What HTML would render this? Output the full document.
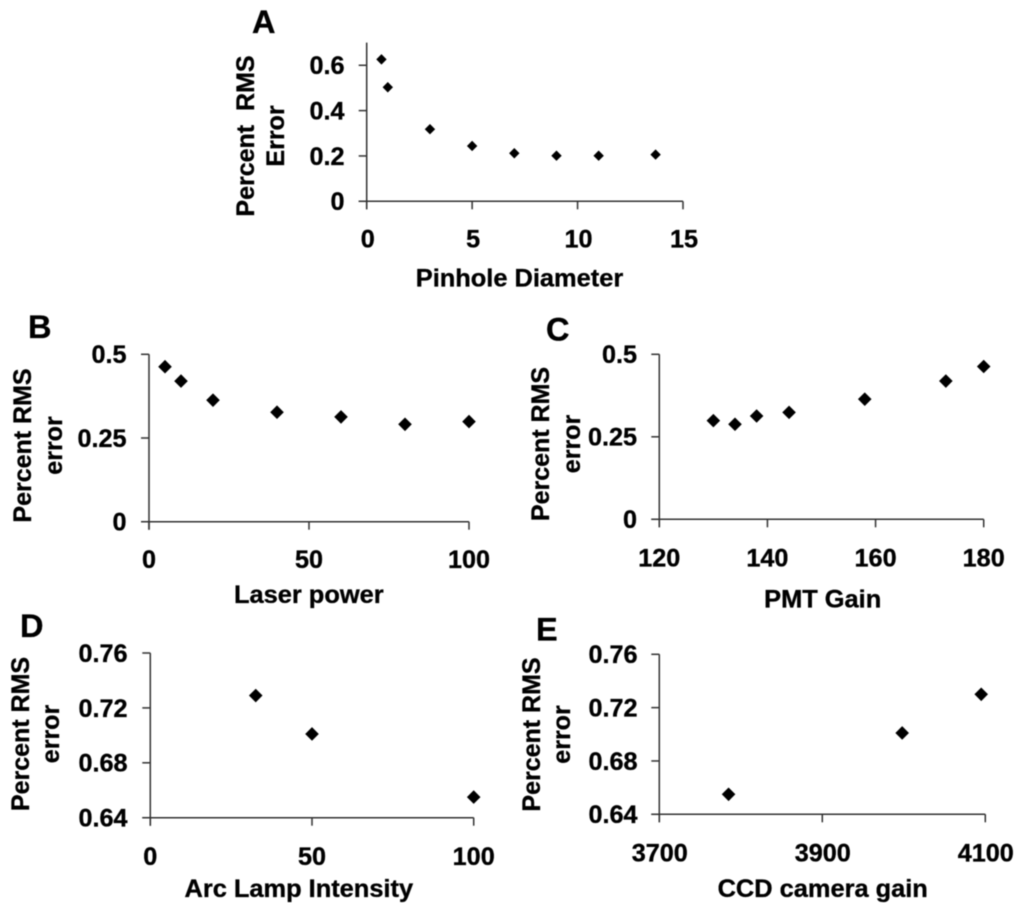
<!DOCTYPE html>
<html lang="en">
<head>
<meta charset="utf-8">
<title>Percent RMS error panels</title>
<style>
html,body{margin:0;padding:0;background:#fff;}
svg{display:block;}
text{font-family:"Liberation Sans",Arial,sans-serif;font-weight:bold;fill:#000;stroke:#000;stroke-width:0.35px;white-space:pre;}
</style>
</head>
<body>
<svg id="figure" xmlns="http://www.w3.org/2000/svg" width="1024" height="913" viewBox="0 0 1024 913">
<defs><filter id="soft" x="0" y="0" width="100%" height="100%"><feGaussianBlur stdDeviation="0.4"/></filter></defs>
<rect width="1024" height="913" fill="#fff"/>
<g id="root" filter="url(#soft)"></g>
</svg>
<script>
// Panel A
const pinholeDiameter = [0.7, 1, 3, 5, 7, 9, 11, 13.7];
const pinholeError = [0.626, 0.503, 0.318, 0.244, 0.212, 0.201, 0.201, 0.206];
const pinholeXTicks = [0, 5, 10, 15];
const pinholeYTicks = [0, 0.2, 0.4, 0.6];
// Panel B
const laserPower = [5, 10, 20, 40, 60, 80, 100];
const laserError = [0.463, 0.420, 0.363, 0.327, 0.313, 0.291, 0.299];
const laserXTicks = [0, 50, 100];
const laserYTicks = [0, 0.25, 0.5];
// Panel C
const pmtGain = [130, 134, 138, 144, 158, 173, 180];
const pmtError = [0.299, 0.288, 0.313, 0.324, 0.364, 0.419, 0.463];
const pmtXTicks = [120, 140, 160, 180];
const pmtYTicks = [0, 0.25, 0.5];
// Panel D
const arcIntensity = [32.6, 50, 100];
const arcError = [0.729, 0.701, 0.655];
const arcXTicks = [0, 50, 100];
const arcYTicks = [0.64, 0.68, 0.72, 0.76];
// Panel E
const ccdGain = [3785, 3998, 4095];
const ccdError = [0.655, 0.701, 0.730];
const ccdXTicks = [3700, 3900, 4100];
const ccdYTicks = [0.64, 0.68, 0.72, 0.76];

const SVG_NS = 'http://www.w3.org/2000/svg';
const root = document.getElementById('root');

function linear(d0, d1, r0, r1) {
  return function (v) { return r0 + (v - d0) / (d1 - d0) * (r1 - r0); };
}
function add(parent, tag, attrs, txt) {
  const el = document.createElementNS(SVG_NS, tag);
  for (const k in attrs) el.setAttribute(k, attrs[k]);
  if (txt !== undefined) el.textContent = txt;
  parent.appendChild(el);
  return el;
}
const AXIS = { stroke: '#333', 'stroke-width': 1.5 };

function drawPanel(p) {
  const g = add(root, 'g', {});
  
  
  const x = linear(p.xDomain[0], p.xDomain[1], p.xRange[0], p.xRange[1]);
  const y = linear(p.yDomain[0], p.yDomain[1], p.yRange[0], p.yRange[1]);

  const letter = add(g, 'text', { x: p.letter[0], y: p.letter[1], 'font-size': 32.5 }, p.id);
  
  

  const yAxis = add(g, 'line', Object.assign({ x1: p.xRange[0], x2: p.xRange[0], y1: p.yRange[1], y2: p.yRange[0] + 8 }, AXIS));
  
  
  const xAxis = add(g, 'line', Object.assign({ x1: p.xRange[0] - 8, x2: x(p.xDomain[1]), y1: p.yRange[0], y2: p.yRange[0] }, AXIS));
  
  

  p.xTicks.forEach(function (t) {
    const px = x(t);
    const tick = add(g, 'line', Object.assign({ x1: px, x2: px, y1: p.yRange[0], y2: p.yRange[0] + 8 }, AXIS));
    
    
    const lab = add(g, 'text', { x: px + p.xLabelDx, y: p.xLabelY, 'font-size': 25.2, 'text-anchor': 'middle' }, String(t));
    
    
  });
  p.yTicks.forEach(function (t) {
    const py = y(t);
    const tick = add(g, 'line', Object.assign({ x1: p.xRange[0] - 8, x2: p.xRange[0], y1: py, y2: py }, AXIS));
    
    
    const lab = add(g, 'text', { x: p.yLabelEnd, y: py + 8.9, 'font-size': 25.2, 'text-anchor': 'end' }, String(t));
    
    
  });

  p.yTitle.forEach(function (line, i) {
    const bx = p.yTitleX[i];
    const t = add(g, 'text', { x: bx, y: p.yTitleCy, 'font-size': 25, 'text-anchor': 'middle', transform: 'rotate(-90 ' + bx + ' ' + p.yTitleCy + ')' }, line);
    
    
  });
  const xt = add(g, 'text', { x: p.xTitle[0], y: p.xTitle[1], 'font-size': 25.4, 'text-anchor': 'middle' }, p.xName);
  
  

  p.xs.forEach(function (v, i) {
    const cx = x(v), cy = y(p.ys[i]), r = p.marker;
    const pts = [[cx, cy - r], [cx + r, cy], [cx, cy + r], [cx - r, cy]].map(function (c) { return c[0].toFixed(2) + ',' + c[1].toFixed(2); }).join(' ');
    const m = add(g, 'polygon', { points: pts, fill: '#000' });
    
    
  });
}

drawPanel({ id: 'A', letter: [252, 33], xs: pinholeDiameter, ys: pinholeError, xTicks: pinholeXTicks, yTicks: pinholeYTicks,
  xDomain: [0, 15], yDomain: [0, 0.7], xRange: [366.7, 683], yRange: [201.3, 42.6], marker: 5.2,
  xLabelY: 247.7, xLabelDx: 1, yLabelEnd: 344.5, yTitle: ['Percent  RMS', 'Error'], yTitleX: [254, 284], yTitleCy: 136,
  xName: 'Pinhole Diameter', xTitle: [519.5, 286.7] });
drawPanel({ id: 'B', letter: [28, 338], xs: laserPower, ys: laserError, xTicks: laserXTicks, yTicks: laserYTicks,
  xDomain: [0, 100], yDomain: [0, 0.5], xRange: [149, 469], yRange: [521.7, 354.3], marker: 6.8,
  xLabelY: 568, xLabelDx: 0, yLabelEnd: 126.5, yTitle: ['Percent RMS', 'error'], yTitleX: [31, 62], yTitleCy: 445.5,
  xName: 'Laser power', xTitle: [308.8, 603] });
drawPanel({ id: 'C', letter: [546, 340.7], xs: pmtGain, ys: pmtError, xTicks: pmtXTicks, yTicks: pmtYTicks,
  xDomain: [120, 180], yDomain: [0, 0.5], xRange: [659.3, 983.7], yRange: [519.3, 354.3], marker: 6.8,
  xLabelY: 566.7, xLabelDx: 0, yLabelEnd: 637, yTitle: ['Percent RMS', 'error'], yTitleX: [549, 580], yTitleCy: 444,
  xName: 'PMT Gain', xTitle: [822.7, 607.7] });
drawPanel({ id: 'D', letter: [20, 637], xs: arcIntensity, ys: arcError, xTicks: arcXTicks, yTicks: arcYTicks,
  xDomain: [0, 100], yDomain: [0.64, 0.76], xRange: [150.3, 473.7], yRange: [817.7, 653], marker: 6.8,
  xLabelY: 865, xLabelDx: 0, yLabelEnd: 127.5, yTitle: ['Percent RMS', 'error'], yTitleX: [29, 59], yTitleCy: 734,
  xName: 'Arc Lamp Intensity', xTitle: [298.8, 897] });
drawPanel({ id: 'E', letter: [536, 640.7], xs: ccdGain, ys: ccdError, xTicks: ccdXTicks, yTicks: ccdYTicks,
  xDomain: [3700, 4100], yDomain: [0.64, 0.76], xRange: [659.3, 985.3], yRange: [814.3, 654.3], marker: 6.8,
  xLabelY: 861.7, xLabelDx: 0.5, yLabelEnd: 637.5, yTitle: ['Percent RMS', 'error'], yTitleX: [540, 570], yTitleCy: 734.5,
  xName: 'CCD camera gain', xTitle: [822.7, 897] });
</script>
</body>
</html>
